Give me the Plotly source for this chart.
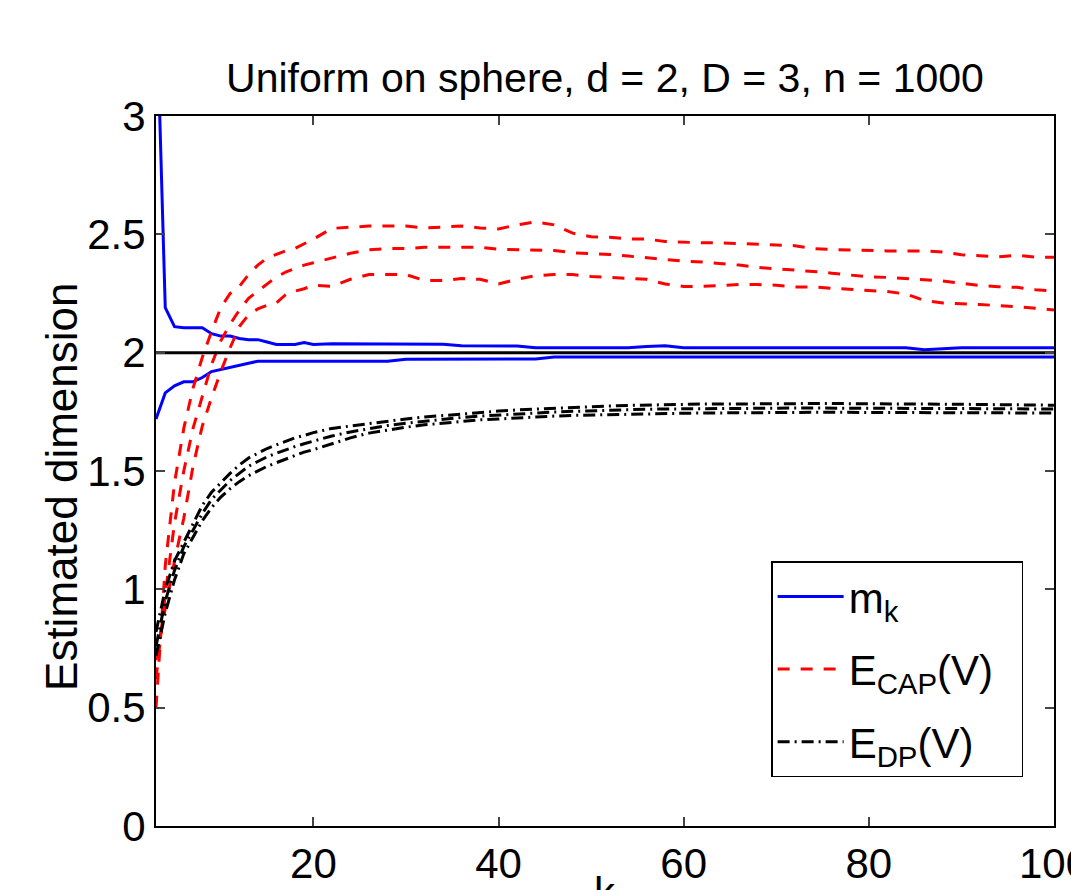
import plotly.graph_objects as go

# ---- data ----
k = list(range(3, 21)) + list(range(22, 101, 2))

mk_hi = [3.55, 2.19, 2.11, 2.105, 2.105, 2.105, 2.08, 2.07, 2.07, 2.06, 2.055, 2.055, 2.045, 2.035, 2.035, 2.035, 2.043, 2.035,
         2.038, 2.038, 2.038, 2.038, 2.038, 2.038, 2.036, 2.029, 2.029, 2.029, 2.028, 2.021, 2.021, 2.021, 2.021, 2.021, 2.021,
         2.026, 2.029, 2.021, 2.021, 2.021, 2.021, 2.021, 2.021, 2.021, 2.021, 2.021, 2.021, 2.021, 2.021, 2.021, 2.012, 2.018,
         2.021, 2.021, 2.021, 2.021, 2.021, 2.021]
mk_lo = [1.72, 1.83, 1.86, 1.877, 1.877, 1.895, 1.92, 1.928, 1.936, 1.945, 1.955, 1.964, 1.964, 1.964, 1.964, 1.964, 1.964, 1.964,
         1.964, 1.964, 1.964, 1.964, 1.972, 1.972, 1.973, 1.973, 1.973, 1.973, 1.973, 1.973, 1.982, 1.982, 1.982, 1.982, 1.982,
         1.982, 1.982, 1.982, 1.982, 1.982, 1.982, 1.982, 1.982, 1.982, 1.982, 1.982, 1.982, 1.982, 1.982, 1.982, 1.982, 1.982,
         1.982, 1.982, 1.982, 1.982, 1.982, 1.982]

cap_hi = [0.5, 1.1, 1.45, 1.68, 1.85, 1.98, 2.09, 2.19, 2.25, 2.28, 2.33, 2.37, 2.40, 2.415, 2.43, 2.44, 2.46, 2.48,
          2.525, 2.53, 2.535, 2.535, 2.535, 2.527, 2.53, 2.535, 2.527, 2.523, 2.54, 2.553, 2.54, 2.505, 2.49, 2.488, 2.48,
          2.48, 2.47, 2.466, 2.464, 2.464, 2.46, 2.457, 2.455, 2.452, 2.44, 2.436, 2.433, 2.43, 2.43, 2.43, 2.43, 2.425,
          2.414, 2.41, 2.405, 2.412, 2.404, 2.403]
cap_mid = [0.62, 0.98, 1.28, 1.5, 1.68, 1.82, 1.95, 2.05, 2.12, 2.18, 2.23, 2.26, 2.29, 2.32, 2.34, 2.355, 2.37, 2.38,
           2.40, 2.42, 2.435, 2.44, 2.44, 2.445, 2.445, 2.445, 2.445, 2.437, 2.436, 2.436, 2.432, 2.422, 2.42, 2.415, 2.408,
           2.40, 2.392, 2.387, 2.383, 2.378, 2.37, 2.36, 2.355, 2.35, 2.343, 2.336, 2.328, 2.32, 2.318, 2.312, 2.308, 2.303,
           2.293, 2.284, 2.279, 2.276, 2.266, 2.26]
cap_lo = [0.7, 0.92, 1.12, 1.3, 1.52, 1.69, 1.81, 1.92, 2.02, 2.11, 2.16, 2.185, 2.20, 2.21, 2.245, 2.26, 2.27, 2.285,
          2.28, 2.31, 2.33, 2.33, 2.33, 2.305, 2.305, 2.313, 2.31, 2.29, 2.31, 2.325, 2.33, 2.33, 2.322, 2.318, 2.315,
          2.31, 2.29, 2.28, 2.28, 2.285, 2.288, 2.288, 2.285, 2.277, 2.278, 2.272, 2.267, 2.264, 2.258, 2.248, 2.22, 2.21,
          2.208, 2.203, 2.199, 2.194, 2.188, 2.18]

dp_hi = [0.82, 1.0, 1.12, 1.2, 1.28, 1.355, 1.41, 1.45, 1.49, 1.525, 1.555, 1.575, 1.595, 1.61, 1.625, 1.64, 1.65, 1.662,
         1.68, 1.69, 1.70, 1.712, 1.72, 1.728, 1.735, 1.742, 1.748, 1.753, 1.758, 1.762, 1.766, 1.77, 1.772, 1.775, 1.777,
         1.779, 1.78, 1.782, 1.783, 1.783, 1.784, 1.784, 1.785, 1.785, 1.785, 1.785, 1.785, 1.785, 1.784, 1.784, 1.783, 1.783,
         1.782, 1.781, 1.780, 1.780, 1.779, 1.778]
dp_mid = [0.76, 0.95, 1.08, 1.18, 1.25, 1.32, 1.38, 1.42, 1.46, 1.49, 1.52, 1.54, 1.56, 1.575, 1.59, 1.603, 1.615, 1.627,
          1.648, 1.665, 1.68, 1.692, 1.702, 1.711, 1.719, 1.726, 1.732, 1.737, 1.742, 1.746, 1.749, 1.752, 1.755, 1.757, 1.759,
          1.761, 1.762, 1.763, 1.764, 1.765, 1.765, 1.765, 1.766, 1.766, 1.766, 1.766, 1.766, 1.766, 1.765, 1.765, 1.765, 1.764,
          1.764, 1.764, 1.763, 1.763, 1.762, 1.762]
dp_lo = [0.72, 0.9, 1.04, 1.15, 1.22, 1.29, 1.345, 1.39, 1.425, 1.455, 1.48, 1.50, 1.52, 1.535, 1.55, 1.565, 1.58, 1.59,
         1.615, 1.64, 1.66, 1.673, 1.685, 1.695, 1.703, 1.71, 1.716, 1.72, 1.725, 1.729, 1.732, 1.735, 1.737, 1.739, 1.741,
         1.742, 1.743, 1.744, 1.745, 1.746, 1.747, 1.747, 1.748, 1.748, 1.748, 1.748, 1.748, 1.748, 1.747, 1.747, 1.747, 1.746,
         1.746, 1.746, 1.745, 1.745, 1.745, 1.745]

true_k = [3, 100]
true_dim = [2, 2]

x_ticks = [20, 40, 60, 80, 100]
y_ticks = [0, 0.5, 1, 1.5, 2, 2.5, 3]
y_tick_labels = ["0", "0.5", "1", "1.5", "2", "2.5", "3"]

FONT = "Liberation Sans, Arial, Helvetica, sans-serif"
BLUE = "#0000ff"
RED = "#ff0000"
DASH = "12px,11px"
DASHDOT = "12px,5px,2px,5px"
PAD = "&nbsp;" * 2

fig = go.Figure()

def add(y, name, color, dash, show, group):
    fig.add_trace(go.Scatter(x=k, y=y, mode="lines", name=name, showlegend=show,
                             legendgroup=group,
                             line=dict(color=color, width=3, dash=dash)))

add(mk_hi, "m<sub>k</sub>", BLUE, "solid", True, "mk")
add(mk_lo, "m<sub>k</sub>", BLUE, "solid", False, "mk")
add(cap_hi, "E<sub>CAP</sub>(V)" + PAD, RED, DASH, True, "cap")
add(cap_mid, "E<sub>CAP</sub>(V)", RED, DASH, False, "cap")
add(cap_lo, "E<sub>CAP</sub>(V)", RED, DASH, False, "cap")
add(dp_hi, "E<sub>DP</sub>(V)", "black", DASHDOT, True, "dp")
add(dp_mid, "E<sub>DP</sub>(V)", "black", DASHDOT, False, "dp")
add(dp_lo, "E<sub>DP</sub>(V)", "black", DASHDOT, False, "dp")
fig.add_trace(go.Scatter(x=true_k, y=true_dim, mode="lines", showlegend=False,
                         line=dict(color="black", width=3)))

axis_common = dict(showline=True, linecolor="black", linewidth=2, mirror="ticks",
                   ticks="inside", ticklen=9, tickwidth=1.5, tickcolor="#444",
                   showgrid=False, zeroline=False, automargin=False,
                   ticklabeloverflow="allow",
                   tickfont=dict(family=FONT, size=42, color="black"))

fig.update_layout(
    width=1071, height=890,
    margin=dict(l=156, r=17, t=116, b=64, autoexpand=False),
    paper_bgcolor="white", plot_bgcolor="white",
    font=dict(family=FONT, color="black"),
    title=dict(text="Uniform on sphere, d = 2, D = 3, n = 1000",
               font=dict(family=FONT, size=41, color="black"),
               x=0.5, xref="paper", xanchor="center",
               y=1, yref="paper", yanchor="bottom", pad=dict(b=24)),
    xaxis=dict(range=[3, 100.001], tickvals=x_ticks, ticktext=[str(v) for v in x_ticks],
               **axis_common),
    yaxis=dict(range=[0, 3], tickvals=y_ticks, ticktext=y_tick_labels,
               **axis_common),
    legend=dict(x=0.685, y=0.373, xanchor="left", yanchor="top",
                bgcolor="white", bordercolor="black", borderwidth=1.5,
                font=dict(family=FONT, size=42, color="black"),
                itemwidth=66, tracegroupgap=15, traceorder="grouped"),
    annotations=[
        dict(text="k", xref="paper", yref="paper", x=0.5, y=-0.058,
             xanchor="center", yanchor="top", showarrow=False,
             font=dict(family=FONT, size=42, color="black")),
        dict(text="Estimated dimension", xref="paper", yref="paper", x=-0.1047, y=0.4775,
             xanchor="center", yanchor="middle", textangle=-90, showarrow=False,
             font=dict(family=FONT, size=44, color="black")),
    ],
)

fig.write_html("out.html")
